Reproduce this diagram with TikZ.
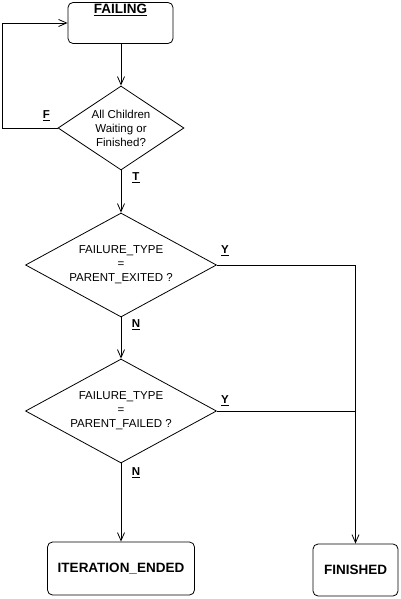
\documentclass[tikz,border=0pt]{standalone}
\usepackage{fontspec}
\setmainfont{Liberation Sans}
\usetikzlibrary{shapes.geometric,arrows.meta}
\begin{document}
\begin{tikzpicture}[x=1pt,y=-1pt,
  line width=0.8pt,
  arr/.style={-{Straight Barb[length=8pt,width=7pt,line width=0.8pt]}},
  statebox/.style={draw,rounded corners=5pt,inner sep=0pt,font=\fontsize{13.5}{16}\selectfont\bfseries},
  decision/.style={draw,diamond,inner sep=0pt,align=center,font=\fontsize{11.5}{14}\selectfont},
  branch/.style={font=\fontsize{11.5}{14}\selectfont\bfseries,inner sep=0pt}]
\useasboundingbox (0,0) rectangle (400,599);
\node[statebox,minimum width=105pt,minimum height=41pt,
  label={[anchor=north,yshift=-2pt,font=\fontsize{13.5}{16}\selectfont\bfseries,inner sep=0pt]north:\underline{FAILING}}] (fail) at (120.5,23) {};
\node[decision,shape aspect=1.5,minimum width=126pt,minimum height=84pt] (d1) at (121,128) {All Children\\Waiting or\\Finished?};
\node[decision,shape aspect=1.84,minimum width=191pt,minimum height=104pt] (d2) at (121,265) {FAILURE\_TYPE\\=\\PARENT\_EXITED ?};
\node[decision,shape aspect=1.84,minimum width=191pt,minimum height=104pt] (d3) at (121,411) {FAILURE\_TYPE\\=\\PARENT\_FAILED ?};
\node[statebox,minimum width=147pt,minimum height=53pt] (iter) at (121,568.5) {ITERATION\_ENDED};
\node[statebox,minimum width=85pt,minimum height=52pt] (fin) at (355.5,570) {FINISHED};

\draw[arr] (fail.south -| d1.north) -- (d1.north);
\draw[arr] (d1.west) -- ++(-55,0) |- (fail.west);
\draw[arr] (d1.south) -- (d2.north);
\draw[arr] (d2.south) -- (d3.north);
\draw[arr] (d3.south) -- (iter.north);
\draw[arr] (d2.east) -| (fin.north);
\draw (d3.east) -- (d3.east -| fin.north);

\node[branch] (lf) at (46.5,116) {\underline{F}};
\node[branch] (lt) at (136,178) {\underline{T}};
\node[branch] (ly1) at (225,251) {\underline{Y}};
\node[branch] (ly2) at (225,401) {\underline{Y}};
\node[branch] (ln1) at (136,325) {\underline{N}};
\node[branch] (ln2) at (136,473) {\underline{N}};
\end{tikzpicture}
\end{document}
